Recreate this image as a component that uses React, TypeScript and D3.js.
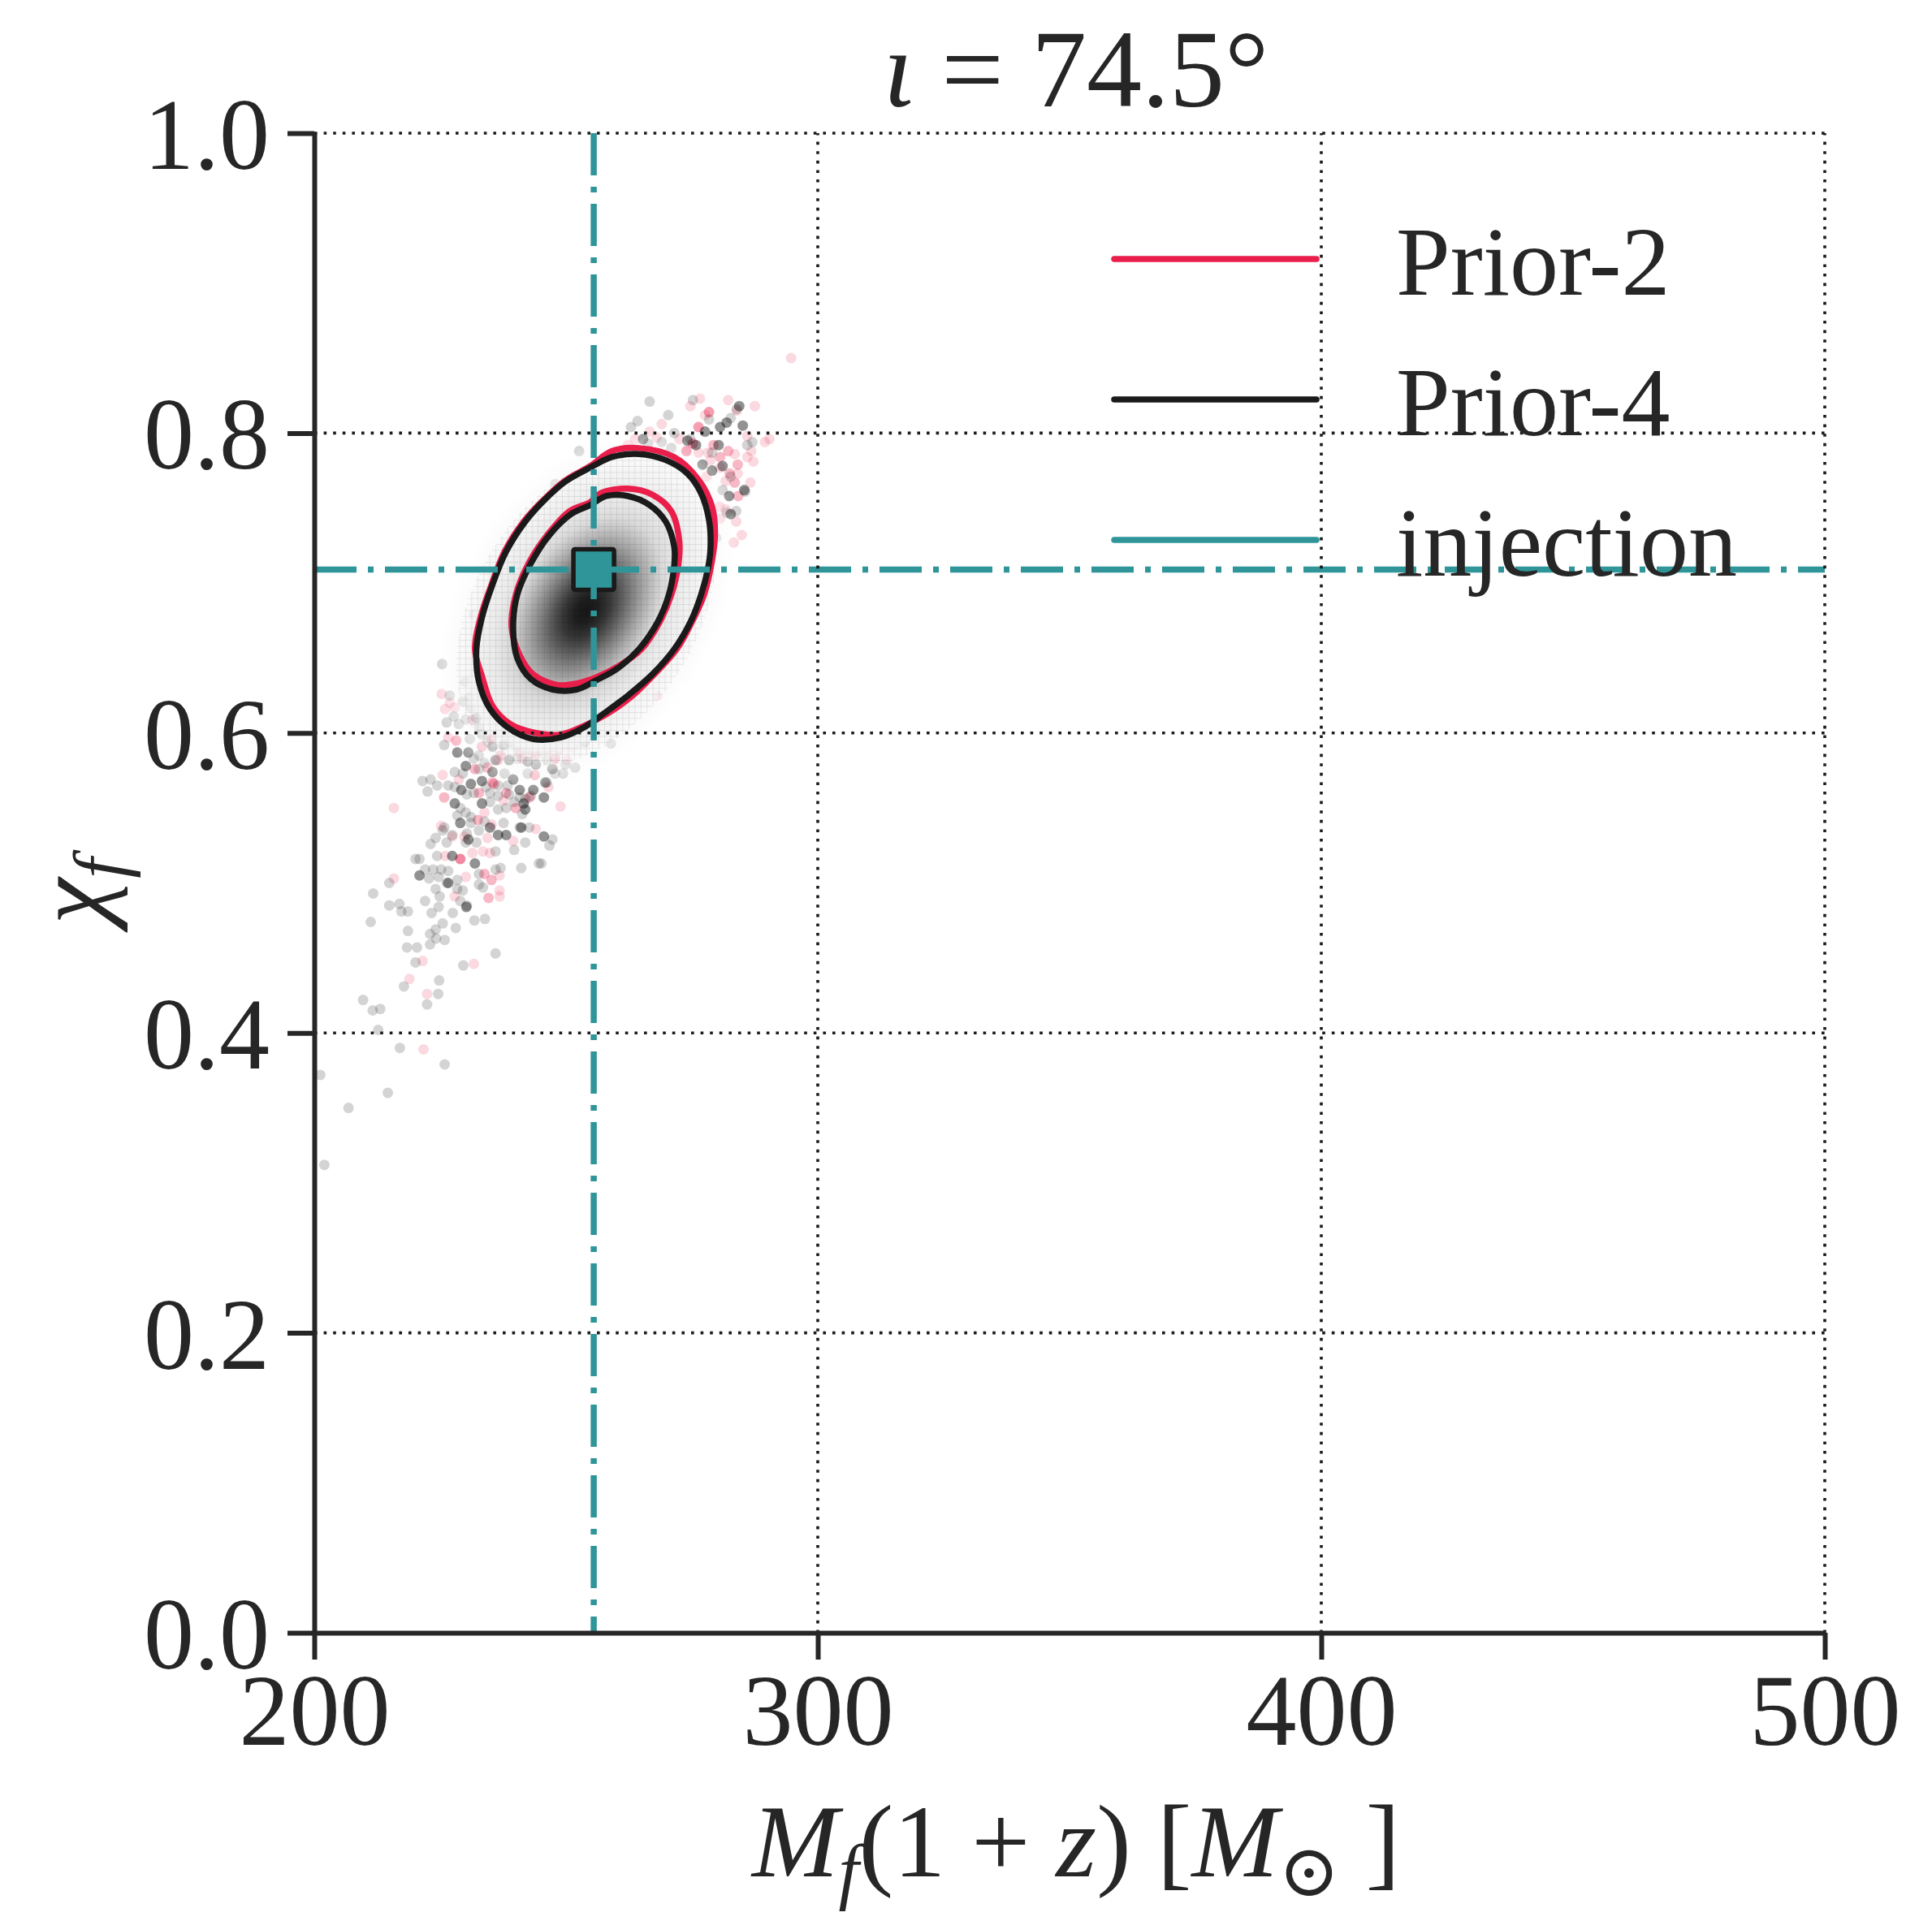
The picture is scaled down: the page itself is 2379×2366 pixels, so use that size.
import * as d3 from "d3";
import { useEffect, useRef } from "react";

// axes
const xDomain = [200, 500];
const yDomain = [0, 1];
const xTicks = [200, 300, 400, 500];
const yTicks = [0, 0.2, 0.4, 0.6, 0.8, 1.0];

const titleParts = ["ι", " = 74.5°"];
const legendLabels = ["Prior-2", "Prior-4", "injection"];

// injected values and peak of the (Prior-4) density
const injection = { mass: 255.5, spin: 0.709 };
const densityPeak = { mass: 254.0, spin: 0.682 };

// credible contours, [M_f(1+z), chi_f]
const prior2Outer: [number, number][] = [
  [259.1, 0.788], [264.5, 0.790], [271.5, 0.784], [276.3, 0.769], [279.0, 0.751],
  [279.6, 0.733], [279.0, 0.715], [277.4, 0.692], [275.0, 0.674], [272.0, 0.656],
  [267.5, 0.639], [262.9, 0.624], [257.8, 0.612], [253.7, 0.605], [248.9, 0.599],
  [244.0, 0.600], [238.9, 0.606], [235.4, 0.618], [233.3, 0.638], [231.9, 0.656],
  [233.0, 0.677], [235.2, 0.699], [237.8, 0.721], [241.6, 0.741], [245.4, 0.755],
  [249.7, 0.768], [254.8, 0.778],
];
const prior2Inner: [number, number][] = [
  [256.9, 0.760], [262.3, 0.763], [267.1, 0.759], [270.9, 0.748], [272.5, 0.728],
  [272.3, 0.712], [270.9, 0.692], [268.6, 0.674], [265.0, 0.656], [260.6, 0.645],
  [255.9, 0.637], [252.0, 0.633], [248.3, 0.632], [243.5, 0.639], [240.8, 0.652],
  [239.2, 0.670], [240.0, 0.692], [242.7, 0.714], [246.5, 0.733], [250.7, 0.748],
  [254.8, 0.754],
];
const prior4Outer: [number, number][] = [
  [259.1, 0.784], [264.5, 0.786], [269.8, 0.782], [274.1, 0.773], [276.8, 0.760],
  [278.4, 0.742], [278.7, 0.724], [278.2, 0.710], [276.8, 0.692], [274.7, 0.674],
  [271.5, 0.656], [267.1, 0.639], [262.3, 0.625], [257.5, 0.613], [253.7, 0.604],
  [248.9, 0.597], [243.5, 0.596], [238.7, 0.603], [234.9, 0.616], [232.7, 0.634],
  [232.2, 0.656], [233.3, 0.677], [235.4, 0.699], [238.1, 0.721], [241.9, 0.741],
  [245.6, 0.755], [250.0, 0.768], [254.8, 0.777],
];
const prior4Inner: [number, number][] = [
  [258.0, 0.758], [262.3, 0.758], [266.6, 0.752], [269.8, 0.741], [271.5, 0.724],
  [271.5, 0.712], [270.4, 0.692], [268.2, 0.674], [264.5, 0.656], [260.2, 0.643],
  [255.9, 0.635], [252.1, 0.629], [247.3, 0.629], [243.0, 0.636], [240.3, 0.650],
  [239.5, 0.670], [240.3, 0.692], [243.0, 0.713], [246.7, 0.732], [251.0, 0.746],
  [254.8, 0.752],
];

// posterior samples outside the contours, [M_f(1+z), chi_f, overlapping count]
const prior4Samples: [number, number, number][] = [
  [230.0, 0.634, 1], [230.9, 0.624, 1], [226.9, 0.625, 1], [229.5, 0.621, 1], [231.1, 0.617, 1],
  [227.7, 0.611, 1], [226.3, 0.607, 1], [228.7, 0.606, 1], [230.1, 0.609, 1], [232.2, 0.610, 3],
  [232.7, 0.604, 1], [225.8, 0.592, 1], [228.4, 0.587, 3], [230.9, 0.596, 1], [233.3, 0.599, 1],
  [234.4, 0.594, 1], [230.6, 0.587, 3], [232.7, 0.585, 1], [235.4, 0.591, 3], [237.6, 0.592, 3],
  [238.7, 0.594, 3], [240.3, 0.591, 1], [242.4, 0.589, 1], [245.1, 0.588, 1], [247.3, 0.591, 3],
  [249.9, 0.592, 1], [252.6, 0.594, 1], [253.7, 0.594, 3], [258.9, 0.593, 1],
  [230.1, 0.578, 3], [231.7, 0.583, 1], [233.8, 0.580, 1], [236.0, 0.582, 3], [238.7, 0.582, 3],
  [240.3, 0.583, 1], [242.4, 0.581, 3], [244.0, 0.579, 3], [246.2, 0.582, 1], [247.3, 0.576, 3],
  [249.4, 0.573, 1], [249.9, 0.579, 1], [251.8, 0.577, 1], [227.9, 0.574, 1], [229.5, 0.573, 1],
  [232.7, 0.576, 1], [235.4, 0.574, 3], [237.8, 0.573, 1], [239.5, 0.569, 3], [242.4, 0.573, 1],
  [245.9, 0.567, 3], [247.8, 0.573, 1],
  [221.5, 0.568, 1], [223.1, 0.569, 1], [224.4, 0.565, 1], [226.6, 0.565, 1], [227.9, 0.564, 1],
  [229.2, 0.562, 3], [231.1, 0.566, 3], [233.3, 0.568, 3], [234.1, 0.564, 1], [236.5, 0.565, 1],
  [238.4, 0.565, 1], [240.8, 0.562, 3], [243.5, 0.562, 3], [246.2, 0.567, 1], [222.5, 0.561, 1],
  [230.3, 0.559, 1], [231.7, 0.560, 1], [234.9, 0.560, 1], [236.5, 0.558, 1], [238.7, 0.559, 1],
  [240.8, 0.557, 1], [241.9, 0.556, 1], [243.0, 0.558, 1], [245.6, 0.557, 3],
  [227.9, 0.553, 3], [229.0, 0.550, 1], [228.4, 0.545, 1], [230.1, 0.547, 1], [231.1, 0.544, 1],
  [233.3, 0.553, 3], [234.9, 0.554, 1], [236.5, 0.549, 1], [238.1, 0.550, 1], [239.7, 0.554, 1],
  [241.6, 0.553, 3], [241.9, 0.549, 3], [241.3, 0.546, 1], [229.0, 0.540, 3], [231.1, 0.540, 1],
  [233.8, 0.541, 1], [237.6, 0.540, 1], [241.1, 0.537, 3],
  [225.8, 0.537, 1], [225.5, 0.535, 1], [224.1, 0.530, 1], [227.4, 0.532, 1], [230.3, 0.533, 1],
  [230.6, 0.529, 3], [232.7, 0.535, 1], [234.9, 0.537, 3], [236.5, 0.532, 3], [238.1, 0.532, 3],
  [240.8, 0.537, 1], [242.7, 0.537, 1], [245.6, 0.531, 3], [247.3, 0.529, 1], [223.1, 0.526, 1],
  [226.3, 0.527, 1], [230.1, 0.527, 1], [232.2, 0.527, 1], [236.0, 0.521, 1], [239.7, 0.522, 1],
  [241.9, 0.527, 1], [246.7, 0.525, 1],
  [220.1, 0.516, 1], [220.9, 0.516, 1], [224.4, 0.518, 1], [227.4, 0.518, 3], [231.9, 0.513, 3],
  [222.0, 0.509, 1], [223.6, 0.509, 1], [225.2, 0.509, 1], [226.6, 0.508, 1], [220.9, 0.505, 3],
  [222.8, 0.503, 1], [224.7, 0.504, 1], [226.6, 0.500, 3], [228.4, 0.502, 1], [232.7, 0.506, 1],
  [236.0, 0.509, 1], [237.0, 0.510, 1], [241.1, 0.510, 1], [244.6, 0.513, 1], [245.1, 0.513, 1],
  [224.1, 0.496, 1], [226.3, 0.500, 1], [228.4, 0.496, 1], [229.5, 0.495, 1], [232.7, 0.499, 1],
  [233.5, 0.497, 1], [224.9, 0.491, 1], [222.0, 0.488, 1], [229.0, 0.488, 1], [230.3, 0.485, 1],
  [216.9, 0.486, 1], [224.7, 0.484, 1], [230.2, 0.484, 3],
  [214.9, 0.500, 1], [211.7, 0.493, 1], [214.9, 0.485, 1], [217.3, 0.481, 1], [218.6, 0.481, 1],
  [211.2, 0.474, 1], [223.3, 0.480, 1], [227.5, 0.480, 1], [225.5, 0.473, 1], [228.1, 0.470, 1],
  [231.8, 0.475, 1], [233.9, 0.476, 1], [218.6, 0.468, 1], [223.0, 0.466, 1], [224.1, 0.469, 1],
  [224.2, 0.463, 1], [225.9, 0.462, 1], [223.0, 0.459, 1], [218.4, 0.457, 1], [220.4, 0.457, 1],
  [220.1, 0.447, 1], [236.0, 0.453, 1], [229.6, 0.445, 1], [224.8, 0.435, 1], [217.8, 0.431, 1],
  [224.6, 0.426, 1], [222.4, 0.419, 1], [209.7, 0.422, 1], [211.6, 0.415, 1], [213.1, 0.416, 1],
  [212.7, 0.402, 1], [217.0, 0.390, 1], [225.9, 0.379, 1], [201.2, 0.372, 1], [214.6, 0.360, 1],
  [206.8, 0.350, 1], [202.0, 0.312, 1],
  [225.4, 0.646, 1], [231.7, 0.679, 1], [252.6, 0.788, 1], [247.9, 0.766, 1],
  [266.6, 0.821, 1], [270.3, 0.812, 1], [264.2, 0.808, 1], [262.9, 0.804, 1], [259.6, 0.787, 1],
  [265.3, 0.796, 3], [266.3, 0.793, 1], [269.0, 0.794, 1], [271.5, 0.800, 1], [274.7, 0.796, 1],
  [275.8, 0.792, 3], [277.6, 0.801, 3], [278.4, 0.809, 1], [275.2, 0.822, 1], [281.9, 0.807, 3],
  [282.7, 0.810, 1], [284.4, 0.818, 3], [283.9, 0.816, 1], [280.6, 0.804, 3], [285.1, 0.805, 3],
  [280.3, 0.792, 3], [279.0, 0.787, 1], [277.1, 0.779, 3], [279.0, 0.775, 3], [281.1, 0.778, 3],
  [282.7, 0.771, 1], [286.0, 0.792, 1], [287.0, 0.794, 1], [285.4, 0.762, 3], [282.4, 0.758, 3],
  [281.1, 0.762, 1], [283.8, 0.748, 1], [282.7, 0.746, 3], [281.9, 0.747, 1], [279.8, 0.730, 1],
  [274.1, 0.795, 3], [270.9, 0.790, 1], [285.6, 0.761, 1],
];

const prior2Samples: [number, number, number][] = [
  [231.1, 0.636, 1], [225.3, 0.626, 1], [226.9, 0.620, 1], [227.9, 0.617, 1], [226.0, 0.616, 1],
  [231.4, 0.609, 2], [226.6, 0.597, 1], [228.2, 0.595, 2], [233.3, 0.591, 2], [235.2, 0.596, 3],
  [237.0, 0.585, 2], [240.8, 0.587, 2], [243.5, 0.587, 2], [246.5, 0.589, 3], [248.6, 0.589, 2],
  [251.3, 0.591, 1], [252.9, 0.596, 1], [231.9, 0.576, 2], [234.4, 0.577, 2], [236.5, 0.582, 2],
  [241.3, 0.583, 2], [244.0, 0.585, 2], [247.8, 0.583, 3], [250.2, 0.582, 1], [243.8, 0.572, 2],
  [235.4, 0.567, 2], [225.5, 0.572, 1], [228.7, 0.569, 1], [225.8, 0.557, 2], [232.7, 0.560, 2],
  [235.7, 0.566, 2], [238.1, 0.560, 2], [242.7, 0.557, 2], [246.5, 0.564, 1], [233.8, 0.547, 1],
  [232.5, 0.542, 2], [235.2, 0.539, 1], [240.0, 0.550, 2], [237.6, 0.555, 1], [248.9, 0.551, 1],
  [215.8, 0.550, 1], [225.2, 0.538, 1], [227.4, 0.531, 1], [229.8, 0.531, 1], [234.4, 0.530, 1],
  [239.5, 0.528, 1], [244.0, 0.536, 1], [231.4, 0.520, 1], [233.5, 0.521, 1], [234.9, 0.520, 1],
  [229.0, 0.516, 4], [226.0, 0.518, 1], [230.1, 0.504, 1], [233.8, 0.506, 2], [235.2, 0.502, 2],
  [236.8, 0.505, 1], [215.8, 0.503, 1], [227.9, 0.491, 1], [234.6, 0.490, 2], [236.8, 0.495, 1],
  [236.8, 0.491, 1],
  [221.5, 0.448, 1], [231.7, 0.446, 1], [218.9, 0.436, 1], [222.4, 0.426, 1], [221.7, 0.389, 1],
  [268.1, 0.625, 1], [261.9, 0.614, 1],
  [276.6, 0.823, 1], [274.7, 0.818, 1], [278.4, 0.814, 3], [277.6, 0.812, 1], [282.2, 0.822, 1],
  [287.5, 0.818, 1], [283.9, 0.815, 1], [269.0, 0.806, 1], [276.3, 0.804, 3], [266.6, 0.801, 1],
  [263.7, 0.796, 1], [262.3, 0.792, 1], [268.0, 0.797, 1], [272.5, 0.796, 1], [275.2, 0.793, 3],
  [273.9, 0.788, 3], [276.3, 0.787, 1], [278.2, 0.787, 1], [279.3, 0.792, 2], [282.2, 0.788, 2],
  [283.5, 0.786, 1], [284.1, 0.779, 2], [280.6, 0.784, 2], [278.7, 0.782, 1], [280.6, 0.777, 1],
  [282.5, 0.773, 2], [284.1, 0.773, 1], [281.7, 0.768, 1], [283.5, 0.767, 2], [286.0, 0.784, 1],
  [286.8, 0.788, 1], [287.2, 0.781, 1], [286.6, 0.767, 1], [284.2, 0.758, 2], [280.5, 0.751, 1],
  [281.7, 0.749, 1], [283.8, 0.741, 1], [284.9, 0.732, 1], [283.3, 0.727, 1], [280.6, 0.743, 1],
  [289.5, 0.794, 1], [290.4, 0.796, 1], [286.0, 0.798, 1], [294.7, 0.850, 1], [277.9, 0.771, 1],
];

const WIDTH = 2379;
const HEIGHT = 2366;
const PLOT = { left: 387, right: 2247, top: 164, bottom: 2011 };
const INK = "#262626";
const SERIF = "'Liberation Serif', 'Times New Roman', 'DejaVu Serif', serif";
const CRIMSON = "#e91e4a";
const BLACK = "#1a1a1a";
const TEAL = "#2f9599";
const seriesColors = [CRIMSON, BLACK, TEAL];
const FONT = 124;

export default function App() {
  const svgRef = useRef<SVGSVGElement | null>(null);

  useEffect(() => {
    document.body.style.margin = "0";
    if (!svgRef.current) return;
    const svg = d3.select(svgRef.current);
    svg.selectAll("*").remove();

    const x = d3.scaleLinear().domain(xDomain).range([PLOT.left, PLOT.right]);
    const y = d3.scaleLinear().domain(yDomain).range([PLOT.bottom, PLOT.top]);

    const defs = svg.append("defs");
    defs
      .append("clipPath")
      .attr("id", "plotClip")
      .append("rect")
      .attr("x", PLOT.left)
      .attr("y", PLOT.top)
      .attr("width", PLOT.right - PLOT.left)
      .attr("height", PLOT.bottom - PLOT.top);

    svg.append("rect").attr("width", WIDTH).attr("height", HEIGHT).attr("fill", "#ffffff");

    const plot = svg.append("g").attr("clip-path", "url(#plotClip)");

    // scatter of samples
    const baseAlpha = 0.17;
    const drawSamples = (data: [number, number, number][], color: string) => {
      plot
        .append("g")
        .selectAll("circle")
        .data(data)
        .join("circle")
        .attr("cx", (d) => x(d[0]))
        .attr("cy", (d) => y(d[1]))
        .attr("r", 6.5)
        .attr("fill", color)
        .attr("fill-opacity", (d) => 1 - Math.pow(1 - baseAlpha, d[2]));
    };
    drawSamples(prior2Samples, CRIMSON);
    drawSamples(prior4Samples, "#000000");

    // density: ellipse fitted to the outer Prior-4 contour
    const outerPx = prior4Outer.map(([m, c]) => [x(m), y(c)]);
    const mx = d3.mean(outerPx, (p) => p[0]) ?? 0;
    const my = d3.mean(outerPx, (p) => p[1]) ?? 0;
    let sxx = 0;
    let syy = 0;
    let sxy = 0;
    outerPx.forEach(([px, py]) => {
      sxx += (px - mx) ** 2;
      syy += (py - my) ** 2;
      sxy += (px - mx) * (py - my);
    });
    sxx /= outerPx.length;
    syy /= outerPx.length;
    sxy /= outerPx.length;
    const half = (sxx - syy) / 2;
    const disc = Math.sqrt(half * half + sxy * sxy);
    const l1 = (sxx + syy) / 2 + disc;
    const l2 = (sxx + syy) / 2 - disc;
    const angle = (0.5 * Math.atan2(2 * sxy, sxx - syy) * 180) / Math.PI;
    const semiA = Math.sqrt(2 * l1);
    const semiB = Math.sqrt(2 * l2);
    const pcx = x(densityPeak.mass);
    const pcy = y(densityPeak.spin);
    const spread = 1.3;

    const grad = defs.append("radialGradient").attr("id", "densityFill");
    const stops: [number, string, number][] = [
      [0, "#161616", 1],
      [0.1, "#1f1f1f", 1],
      [0.2, "#363636", 1],
      [0.3, "#5a5a5a", 1],
      [0.4, "#828282", 1],
      [0.5, "#a8a8a8", 1],
      [0.58, "#c3c3c3", 1],
      [0.66, "#dadada", 1],
      [0.8, "#ebebeb", 1],
      [1.0, "#f5f5f5", 1],
      [1.1, "#f7f7f7", 0.6],
      [1.3, "#fafafa", 0],
    ];
    stops.forEach(([t, c, o]) => {
      grad
        .append("stop")
        .attr("offset", `${(t / spread) * 100}%`)
        .attr("stop-color", c)
        .attr("stop-opacity", o);
    });

    const rot = `rotate(${angle},${pcx},${pcy})`;
    plot
      .append("ellipse")
      .attr("cx", pcx)
      .attr("cy", pcy)
      .attr("rx", semiA * spread)
      .attr("ry", semiB * spread)
      .attr("transform", rot)
      .attr("fill", "url(#densityFill)");

    // histogram cell seams
    const cellW = x(201.2) - x(200);
    const cellH = y(0) - y(0.004);
    const pattern = defs
      .append("pattern")
      .attr("id", "cells")
      .attr("patternUnits", "userSpaceOnUse")
      .attr("x", x(densityPeak.mass))
      .attr("y", y(densityPeak.spin))
      .attr("width", cellW)
      .attr("height", cellH);
    pattern
      .append("path")
      .attr("d", `M${cellW},0L0,0L0,${cellH}`)
      .attr("fill", "none")
      .attr("stroke", "#000")
      .attr("stroke-opacity", 0.13)
      .attr("stroke-width", 1.3);
    defs
      .append("clipPath")
      .attr("id", "cellClip")
      .append("ellipse")
      .attr("cx", pcx)
      .attr("cy", pcy)
      .attr("rx", semiA * 1.12)
      .attr("ry", semiB * 1.12)
      .attr("transform", rot);
    plot
      .append("rect")
      .attr("x", PLOT.left)
      .attr("y", PLOT.top)
      .attr("width", PLOT.right - PLOT.left)
      .attr("height", PLOT.bottom - PLOT.top)
      .attr("fill", "url(#cells)")
      .attr("clip-path", "url(#cellClip)");

    // dotted grid
    const grid = svg.append("g").attr("stroke", BLACK).attr("stroke-width", 3.6).attr("stroke-dasharray", "3.6 8");
    grid
      .selectAll(".gx")
      .data(xTicks.filter((t) => t > xDomain[0]))
      .join("line")
      .attr("x1", (d) => x(d))
      .attr("x2", (d) => x(d))
      .attr("y1", PLOT.bottom)
      .attr("y2", PLOT.top);
    grid
      .selectAll(".gy")
      .data(yTicks.filter((t) => t > yDomain[0]))
      .join("line")
      .attr("x1", PLOT.left)
      .attr("x2", PLOT.right)
      .attr("y1", (d) => y(d))
      .attr("y2", (d) => y(d));

    // contours
    const contourLine = d3
      .line<[number, number]>()
      .x((d) => x(d[0]))
      .y((d) => y(d[1]))
      .curve(d3.curveCatmullRomClosed.alpha(0.5));
    const contours: [[number, number][], string][] = [
      [prior2Outer, CRIMSON],
      [prior2Inner, CRIMSON],
      [prior4Outer, BLACK],
      [prior4Inner, BLACK],
    ];
    contours.forEach(([pts, color]) => {
      plot
        .append("path")
        .datum(pts)
        .attr("d", contourLine)
        .attr("fill", "none")
        .attr("stroke", color)
        .attr("stroke-width", 7.5)
        .attr("stroke-linejoin", "round");
    });

    // injection marker and lines
    const sq = 50;
    plot
      .append("rect")
      .attr("x", x(injection.mass) - sq / 2)
      .attr("y", y(injection.spin) - sq / 2)
      .attr("width", sq)
      .attr("height", sq)
      .attr("rx", 2)
      .attr("fill", TEAL)
      .attr("stroke", BLACK)
      .attr("stroke-width", 5.5);
    const dashDot = "52 14 7 14";
    plot
      .append("line")
      .attr("x1", x(injection.mass))
      .attr("x2", x(injection.mass))
      .attr("y1", PLOT.top)
      .attr("y2", PLOT.bottom)
      .attr("stroke", TEAL)
      .attr("stroke-width", 7.5)
      .attr("stroke-dasharray", dashDot);
    plot
      .append("line")
      .attr("x1", PLOT.left)
      .attr("x2", PLOT.right)
      .attr("y1", y(injection.spin))
      .attr("y2", y(injection.spin))
      .attr("stroke", TEAL)
      .attr("stroke-width", 7.5)
      .attr("stroke-dasharray", dashDot);

    // axes
    const styleAxis = (g: d3.Selection<SVGGElement, unknown, null, undefined>) => {
      g.attr("font-family", SERIF);
      g.select(".domain").attr("stroke", INK).attr("stroke-width", 6);
      g.selectAll(".tick line").attr("stroke", INK).attr("stroke-width", 6);
      g.selectAll(".tick text").attr("fill", INK).attr("font-size", FONT);
    };
    svg
      .append("g")
      .attr("transform", `translate(0,${PLOT.bottom})`)
      .call(
        d3
          .axisBottom(x)
          .tickValues(xTicks)
          .tickSize(33)
          .tickSizeOuter(0)
          .tickPadding(17)
          .tickFormat(d3.format("d"))
      )
      .call(styleAxis);
    svg
      .append("g")
      .attr("transform", `translate(${PLOT.left},0)`)
      .call(
        d3
          .axisLeft(y)
          .tickValues(yTicks)
          .tickSize(33)
          .tickSizeOuter(0)
          .tickPadding(22)
          .tickFormat(d3.format(".1f"))
      )
      .call(styleAxis)
      .call((g) => g.selectAll(".tick text").attr("dy", "0.35em"));

    // title
    const cxAxes = (PLOT.left + PLOT.right) / 2;
    const title = svg
      .append("text")
      .attr("x", cxAxes + 8)
      .attr("y", 131)
      .attr("text-anchor", "middle")
      .attr("font-family", SERIF)
      .attr("font-size", 136)
      .attr("fill", INK);
    title.append("tspan").attr("font-style", "italic").text(titleParts[0]);
    title.append("tspan").text(titleParts[1]);

    // x label
    const xl = svg
      .append("text")
      .attr("x", cxAxes + 8)
      .attr("y", 2311)
      .attr("text-anchor", "middle")
      .attr("font-family", SERIF)
      .attr("font-size", 128)
      .attr("fill", INK);
    xl.append("tspan").attr("font-style", "italic").text("M");
    xl.append("tspan").attr("font-style", "italic").attr("font-size", 90).attr("dy", 24).text("f");
    xl.append("tspan").attr("dy", -24).text("(1 + ");
    xl.append("tspan").attr("font-style", "italic").text("z");
    xl.append("tspan").text(") [");
    xl.append("tspan").attr("font-style", "italic").text("M");
    xl.append("tspan").attr("font-size", 90).attr("dy", 24).text("\u2299");
    xl.append("tspan").attr("dy", -24).text(" ]");

    // y label
    const yl = svg
      .append("text")
      .attr("transform", `translate(130,${(PLOT.top + PLOT.bottom) / 2 + 10}) rotate(-90)`)
      .attr("text-anchor", "middle")
      .attr("font-family", SERIF)
      .attr("font-size", 128)
      .attr("fill", INK);
    yl.append("tspan").attr("font-style", "italic").text("χ");
    yl.append("tspan").attr("font-style", "italic").attr("font-size", 90).attr("dy", 24).text("f");

    // legend
    const legend = svg.append("g");
    const legendY = d3.scalePoint<string>().domain(legendLabels).range([319, 665]);
    legendLabels.forEach((label, i) => {
      const ly = legendY(label) ?? 0;
      legend
        .append("line")
        .attr("x1", 1372)
        .attr("x2", 1621)
        .attr("y1", ly)
        .attr("y2", ly)
        .attr("stroke", seriesColors[i])
        .attr("stroke-width", 7.5)
        .attr("stroke-linecap", "round");
      legend
        .append("text")
        .attr("x", 1719)
        .attr("y", ly + 44)
        .attr("font-family", SERIF)
        .attr("font-size", 120)
        .attr("fill", INK)
        .text(label);
    });
  }, []);

  return <svg ref={svgRef} width={WIDTH} height={HEIGHT} style={{ display: "block" }} />;
}
